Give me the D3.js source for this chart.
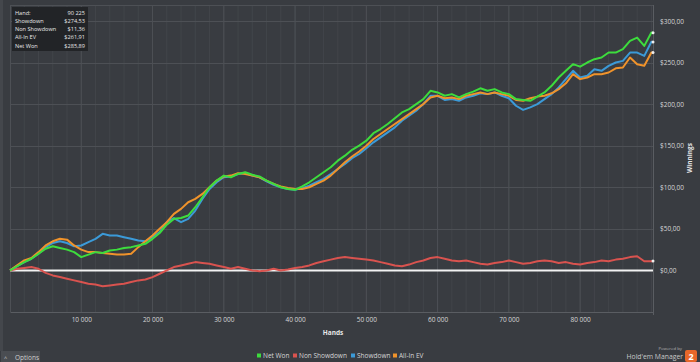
<!DOCTYPE html>
<html><head><meta charset="utf-8">
<script src="https://cdn.jsdelivr.net/npm/d3@7"></script>
<style>html,body{margin:0;padding:0;background:#393c41;overflow:hidden}svg{display:block}</style>
</head><body>
<script>
// Hands sampled every 1000, plus final hand count
const hands = d3.range(0, 91000, 1000).concat([90225]);
const netWon = [0,5,10,14,20,26,29,27,25,22,16,19,22,21,24,25,27,28,30,32,38,45,55,62,63,66,76,88,100,108,114,112,116,118,115,113,108,104,100,98,97,101,106,112,118,124,132,138,145,150,156,165,170,176,183,190,194,200,206,216,214,210,212,208,212,215,219,216,218,214,212,206,205,204,209,214,222,232,240,248,245,250,254,256,262,262,266,276,280,270,286,285.89];
const nonShowdown = [0,2,3,4,2,-3,-6,-8,-10,-12,-14,-16,-17,-19,-18,-17,-16,-14,-12,-11,-8,-4,0,4,6,8,10,9,8,6,4,2,4,2,0,-1,0,2,0,1,3,4,6,9,11,13,15,16,15,14,13,12,10,8,6,5,7,10,12,15,16,14,12,11,12,10,8,7,9,10,12,10,8,9,11,12,11,9,10,8,7,9,10,12,11,13,14,16,17,11,11,11.36];
const showdown = [0,5,10,14,20,28,33,35,33,29,30,34,38,44,42,42,40,38,36,35,40,46,58,63,58,62,72,86,98,106,112,113,116,117,114,112,107,103,100,98,97,99,102,106,110,116,122,128,135,140,147,154,160,166,172,180,186,192,200,210,210,205,206,204,208,210,213,212,214,210,207,198,193,196,200,206,212,220,230,240,232,234,242,240,246,250,252,262,262,258,275,274.53];
const allInEV = [0,6,12,15,22,30,35,38,37,30,25,22,22,21,20,19,19,20,28,35,42,50,58,68,74,82,86,92,100,108,113,114,117,116,114,112,108,104,101,99,98,98,100,104,108,114,122,130,137,143,150,158,164,170,176,182,188,194,200,208,210,207,208,206,210,212,214,212,214,212,210,205,204,207,209,210,213,218,225,236,230,232,236,236,238,243,244,256,248,246,262,261.91];
const xTicks = [10000,20000,30000,40000,50000,60000,70000,80000];
const yTicks = [0,50,100,150,200,250,300];
const seriesNames = ["Net Won","Non Showdown","Showdown","All-In EV"];
const seriesColors = ["#3ddc3d","#d9534f","#3b9ad8","#f0932b"];
const tooltipRows = [["Hand:","90 225"],["Showdown","$274,53"],["Non Showdown","$11,36"],["All-In EV","$261,91"],["Net Won","$285,89"]];

const W=700,H=362;
const svg=d3.select("body").append("svg").attr("width",W).attr("height",H);
svg.append("rect").attr("width",W).attr("height",H).attr("fill","#393c41");
const font="'Open Sans', sans-serif";
const x=d3.scaleLinear().domain([0,90225]).range([10,653]);
const y=d3.scaleLinear().domain([-50,320]).range([312,4.3]);
const fmtX=v=>d3.format(",")(v).replace(/,/g," ");
const fmtY=v=>"$"+d3.format(".2f")(v).replace(".",",");

svg.append("rect").attr("x",0).attr("y",0).attr("width",3).attr("height",351).attr("fill","#44474c");

const g=svg.append("g");
g.selectAll("line.mv").data(d3.range(2000,90225,2000)).join("line")
 .attr("x1",d=>x(d)).attr("x2",d=>x(d)).attr("y1",5).attr("y2",312)
 .attr("stroke","#42454a").attr("stroke-width",1);
g.selectAll("line.Mv").data(xTicks).join("line")
 .attr("x1",d=>x(d)).attr("x2",d=>x(d)).attr("y1",5).attr("y2",312)
 .attr("stroke","#4d5055").attr("stroke-width",1);
g.selectAll("line.h").data(yTicks.filter(d=>d!==0)).join("line")
 .attr("x1",10).attr("x2",653).attr("y1",d=>Math.round(y(d))+0.5).attr("y2",d=>Math.round(y(d))+0.5)
 .attr("stroke","#4d5055");
svg.append("line").attr("x1",10).attr("x2",653).attr("y1",5.5).attr("y2",5.5).attr("stroke","#4d5055");
svg.append("line").attr("x1",10.5).attr("x2",10.5).attr("y1",5).attr("y2",312).attr("stroke","#4d5055");
svg.append("line").attr("x1",653.5).attr("x2",653.5).attr("y1",5).attr("y2",315).attr("stroke","#5a5d62");

const xa=svg.append("g").attr("transform","translate(0,312)")
 .call(d3.axisBottom(x).tickValues(xTicks).tickFormat(fmtX).tickSize(0).tickPadding(5));
xa.select(".domain").attr("stroke","#5a5d62");
xa.selectAll("text").attr("fill","#d6d6d6").attr("font-size","6.5px").attr("font-family",font);
const ya=svg.append("g").attr("transform","translate(653,0)")
 .call(d3.axisRight(y).tickValues(yTicks).tickFormat(fmtY).tickSize(0).tickPadding(7));
ya.select(".domain").remove();
ya.selectAll("text").attr("fill","#d6d6d6").attr("font-size","6.5px").attr("font-family",font);

svg.append("line").attr("x1",10).attr("x2",653).attr("y1",y(0)).attr("y2",y(0)).attr("stroke","#f2f2f2").attr("stroke-width",2);

const data=[netWon,nonShowdown,showdown,allInEV];
const line=d3.line().x((d,i)=>x(hands[i])).y(d=>y(d));
const order=[1,2,3,0];
order.forEach(si=>{
  svg.append("path").datum(data[si]).attr("d",line).attr("fill","none")
   .attr("stroke",seriesColors[si]).attr("stroke-width",2).attr("stroke-linejoin","round");
});
order.forEach(si=>{
  const arr=data[si];
  svg.append("circle").attr("cx",x(hands[hands.length-1])).attr("cy",y(arr[arr.length-1])).attr("r",1.5).attr("fill","#eeeeee");
});

svg.append("text").attr("x",333).attr("y",335).attr("text-anchor","middle").attr("font-size","6.5px").attr("font-weight","bold")
 .attr("font-family",font).attr("fill","#e6e6e6").text("Hands");
svg.append("text").attr("transform","translate(692,158) rotate(-90)").attr("text-anchor","middle").attr("font-size","6.5px")
 .attr("font-weight","bold").attr("font-family",font).attr("fill","#e6e6e6").text("Winnings");

const legX=[257,293,351,393];
seriesNames.forEach((n,i)=>{
  svg.append("rect").attr("x",legX[i]).attr("y",353.5).attr("width",4).attr("height",4).attr("fill",seriesColors[i]);
  svg.append("text").attr("x",legX[i]+6).attr("y",358).attr("font-size","6.5px").attr("font-family",font).attr("fill","#d6d6d6").text(n);
});

svg.append("rect").attr("x",12).attr("y",7).attr("width",76).attr("height",44).attr("fill","#222427");
tooltipRows.forEach((r,i)=>{
  svg.append("text").attr("x",15).attr("y",14.5+i*8.3).attr("font-size","5.6px").attr("font-family",font).attr("fill","#e8e8e8").text(r[0]);
  svg.append("text").attr("x",85).attr("y",14.5+i*8.3).attr("text-anchor","end").attr("font-size","5.6px").attr("font-family",font).attr("fill","#e8e8e8").text(r[1]);
});

svg.append("rect").attr("x",1).attr("y",351).attr("width",39).attr("height",11).attr("fill","#4a4d52");
svg.append("text").attr("x",4).attr("y",360).attr("font-size","5.5px").attr("font-family",font).attr("fill","#cfcfcf").text("^");
svg.append("text").attr("x",15).attr("y",359.5).attr("font-size","6.5px").attr("font-family",font).attr("fill","#cfcfcf").text("Options");

svg.append("text").attr("x",682).attr("y",350).attr("text-anchor","end").attr("font-size","4.3px").attr("font-family",font).attr("fill","#b0b0b0").text("Powered by");
svg.append("text").attr("x",683).attr("y",358.5).attr("text-anchor","end").attr("font-size","6.8px").attr("font-family",font).attr("fill","#c8c8c8").text("Hold'em Manager");
svg.append("rect").attr("x",685).attr("y",350).attr("width",12).attr("height",12).attr("rx",2).attr("fill","#e8672a");
svg.append("text").attr("x",691).attr("y",359.5).attr("text-anchor","middle").attr("font-size","9px").attr("font-weight","bold").attr("font-family",font).attr("fill","#ffffff").text("2");
</script>
</body></html>
